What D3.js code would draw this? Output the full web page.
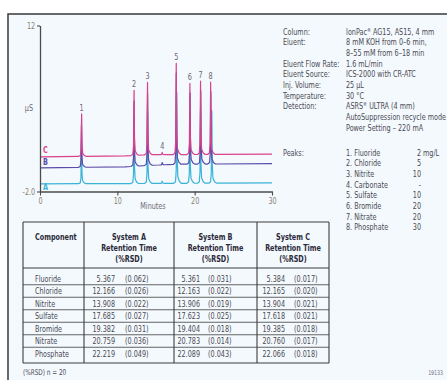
<!DOCTYPE html>
<html>
<head>
<meta charset="utf-8">
<script src="https://cdn.jsdelivr.net/npm/d3@7"></script>
<style>
  body { margin: 0; background: #fff; }
  svg text { font-family: "Liberation Sans Narrow", "DejaVu Sans Condensed", "Arial Narrow", sans-serif; }
</style>
</head>
<body>
<div id="chart"></div>
<script>
// retention table
const components = ["Fluoride", "Chloride", "Nitrite", "Sulfate", "Bromide", "Nitrate", "Phosphate"];
const rtA = [5.367, 12.166, 13.908, 17.685, 19.382, 20.759, 22.219];
const rsdA = ["0.062", "0.026", "0.022", "0.027", "0.031", "0.036", "0.049"];
const rtB = [5.361, 12.163, 13.906, 17.623, 19.404, 20.783, 22.089];
const rsdB = ["0.031", "0.022", "0.019", "0.025", "0.018", "0.014", "0.043"];
const rtC = [5.384, 12.165, 13.904, 17.618, 19.385, 20.760, 22.066];
const rsdC = ["0.017", "0.020", "0.021", "0.021", "0.018", "0.017", "0.018"];

// peaks in the chromatogram (carbonate is peak 4, not in the table)
const peakNames = ["Fluoride", "Chloride", "Nitrite", "Carbonate", "Sulfate", "Bromide", "Nitrate", "Phosphate"];
const peakConc = ["2", "5", "10", "-", "10", "20", "20", "30"];
const peakHeights = [3.6, 5.5, 6.1, 0.2, 7.7, 6.0, 6.2, 6.1];   // µS above baseline
const carbonateTime = 15.8;

// baselines: [minutes, µS]
const baseA = [[0, -1.35], [12, -1.33], [30, -1.27]];
const baseB = [[0, 0.0], [11, 0.08], [14, 0.2], [18, 0.3], [30, 0.35]];
const baseC = [[0, 0.92], [11, 1.0], [14, 1.1], [30, 1.15]];

const condLabels = ["Column:", "Eluent:", "", "Eluent Flow Rate:", "Eluent Source:", "Inj. Volume:", "Temperature:", "Detection:", "", ""];
const condValues = ["IonPac® AG15, AS15, 4 mm", "8 mM KOH from 0–6 min,", "8–55 mM from 6–18 min", "1.6 mL/min",
  "ICS-2000 with CR-ATC", "25 µL", "30 °C", "ASRS® ULTRA (4 mm)", "AutoSuppression recycle mode", "Power Setting – 220 mA"];

const W = 447, H = 380;
const FS = 9, SX = 0.8;   // condensed look: squeeze text horizontally
const svg = d3.select("#chart").append("svg").attr("width", W).attr("height", H);

function txt(parent, x, y, s, fill, anchor) {
  return parent.append("text")
    .attr("transform", `translate(${x},${y}) scale(${SX},1)`)
    .attr("font-size", FS).attr("fill", fill).attr("text-anchor", anchor || "start").text(s);
}

// page frame
svg.append("rect").attr("x", 8).attr("y", 14).attr("width", W - 8).attr("height", H - 14).attr("fill", "#f4f9fd");
svg.append("path").attr("d", `M8,${H}V14H${W}`).attr("fill", "none").attr("stroke", "#3a3a3a").attr("stroke-width", 1.5);

const x = d3.scaleLinear().domain([0, 30]).range([40, 272]);
const y = d3.scaleLinear().domain([-2, 12]).range([191.5, 25.5]);

// peak shape: [offset in min, fraction of height]
const shape = [[-0.4, 0], [-0.16, 0.02], [-0.07, 0.15], [0, 1], [0.06, 0.25], [0.14, 0.07], [0.35, 0.02], [0.6, 0]];

function trace(base, times) {
  const bl = d3.scaleLinear().domain(base.map(d => d[0])).range(base.map(d => d[1]));
  const allTimes = times.slice(0, 3).concat([carbonateTime], times.slice(3));
  let pts = base.map(d => [d[0], d[1]]);
  pts = pts.filter(p => !allTimes.some(t => Math.abs(p[0] - t) < 0.6));
  allTimes.forEach((t, i) => {
    shape.forEach(s => pts.push([t + s[0], bl(t + s[0]) + peakHeights[i] * s[1]]));
  });
  pts.sort((a, b) => a[0] - b[0]);
  return { pts, allTimes, bl };
}

const line = d3.line().x(d => x(d[0])).y(d => y(d[1]));
const systems = [
  { name: "A", base: baseA, rt: rtA, color: "#3bb3d8", lab: -1.6 },
  { name: "B", base: baseB, rt: rtB, color: "#5b4ba8", lab: 0.5 },
  { name: "C", base: baseC, rt: rtC, color: "#d8418b", lab: 1.5 }
];
systems.forEach(s => {
  const tr = trace(s.base, s.rt);
  s.tr = tr;
  svg.append("path").datum(tr.pts).attr("d", line)
    .attr("fill", "none").attr("stroke", s.color).attr("stroke-width", 1.2).attr("stroke-linejoin", "round");
  txt(svg, x(0) + 3, y(s.lab) + 3, s.name, s.color).attr("font-weight", "bold");
});

// peak numbers above trace C
const tc = systems[2].tr;
tc.allTimes.forEach((t, i) => {
  txt(svg, x(t), y(tc.bl(t) + peakHeights[i]) - 3, i + 1, "#6b6570", "middle");
});

// axes
const axisColor = "#4a4a4a", tickText = "#8a8175";
const gx = svg.append("g").attr("transform", `translate(0,${y(-2)})`)
  .call(d3.axisBottom(x).tickValues([0, 10, 20, 30]).tickSize(4).tickSizeOuter(0));
const gy = svg.append("g").attr("transform", `translate(${x(0)},0)`)
  .call(d3.axisLeft(y).tickValues([12, -2]).tickSize(3).tickSizeOuter(0).tickFormat(d => d === -2 ? "-2.0" : d));
[gx, gy].forEach(g => {
  g.select(".domain").attr("stroke", axisColor).attr("stroke-width", 1.3);
  g.selectAll(".tick line").attr("stroke", axisColor).attr("stroke-width", 1.1);
  g.selectAll(".tick text").attr("fill", tickText).attr("font-size", FS)
    .attr("font-family", "'Liberation Sans Narrow', 'DejaVu Sans Condensed', sans-serif")
    .attr("transform", `scale(${SX},1)`);
});
gx.selectAll(".tick text").attr("dy", "0.6em");
gy.selectAll(".tick text").attr("x", -6);
txt(svg, 153, 209, "Minutes", "#6e6a78", "middle");
txt(svg, 33, 111, "µS", "#6e6a78", "end");

// conditions
const infoColor = "#4b4b55";
const condY = d3.scaleLinear().domain([0, 1]).range([34.5, 45.2]);
condLabels.forEach((t, i) => txt(svg, 283, condY(i), t, infoColor));
condValues.forEach((t, i) => {
  const tx = txt(svg, 346, condY(i), "", infoColor);
  const parts = t.split("®");
  tx.append("tspan").text(parts[0]);
  if (parts.length > 1) {
    tx.append("tspan").attr("font-size", 5.5).attr("dy", -3).text("®");
    tx.append("tspan").attr("dy", 3).text(parts[1]);
  }
});

// peak list
const peakY = d3.scaleLinear().domain([0, 1]).range([155.5, 166.2]);
txt(svg, 283, peakY(0), "Peaks:", infoColor);
peakNames.forEach((n, i) => {
  txt(svg, 346, peakY(i), `${i + 1}.  ${n}`, infoColor);
  txt(svg, 421, peakY(i), peakConc[i], infoColor, "end");
});
txt(svg, 423, peakY(0), "mg/L", infoColor);

// table
const colX = [23, 84, 174, 257, 329];
const tTop = 222, tHead = 268, tBot = 363;
const rowY = d3.scaleLinear().domain([0, 6]).range([281.5, 356.5]);
const lineC = "#3c3c3c";
const tbl = svg.append("g");
colX.forEach(cx => tbl.append("line").attr("x1", cx).attr("x2", cx).attr("y1", tTop).attr("y2", tBot).attr("stroke", lineC).attr("stroke-width", 1.1));
[tTop, tHead, tBot].forEach(ly => tbl.append("line").attr("x1", colX[0]).attr("x2", colX[4]).attr("y1", ly).attr("y2", ly).attr("stroke", lineC).attr("stroke-width", 1.1));
d3.range(6).forEach(i => {
  const ly = (rowY(i) + rowY(i + 1)) / 2 - 3;
  tbl.append("line").attr("x1", colX[0]).attr("x2", colX[4]).attr("y1", ly).attr("y2", ly).attr("stroke", lineC).attr("stroke-width", 0.8);
});

const headC = "#2c2a3a";
txt(tbl, 35, 240, "Component", headC).attr("font-weight", "bold");
["A", "B", "C"].forEach((s, j) => {
  const cx = (colX[j + 1] + colX[j + 2]) / 2;
  ["System " + s, "Retention Time", "(%RSD)"].forEach((t, k) => {
    txt(tbl, cx, 240 + k * 11, t, headC, "middle").attr("font-weight", "bold");
  });
});

const fmt = d3.format(".3f");
const cellC = "#4a4a55";
const sysCols = [{ rt: rtA, rsd: rsdA, vx: 115, rx: 125 }, { rt: rtB, rsd: rsdB, vx: 200, rx: 208 }, { rt: rtC, rsd: rsdC, vx: 285, rx: 294 }];
components.forEach((c, i) => {
  txt(tbl, 35, rowY(i), c, cellC);
  sysCols.forEach(s => {
    txt(tbl, s.vx, rowY(i), fmt(s.rt[i]), cellC, "end");
    txt(tbl, s.rx, rowY(i), `(${s.rsd[i]})`, cellC);
  });
});

txt(svg, 23, 375, "(%RSD)  n = 20", cellC).attr("font-size", 8);
txt(svg, 443, 375, "19133", "#6b6a80", "end").attr("font-size", 6.5);
</script>
</body>
</html>
